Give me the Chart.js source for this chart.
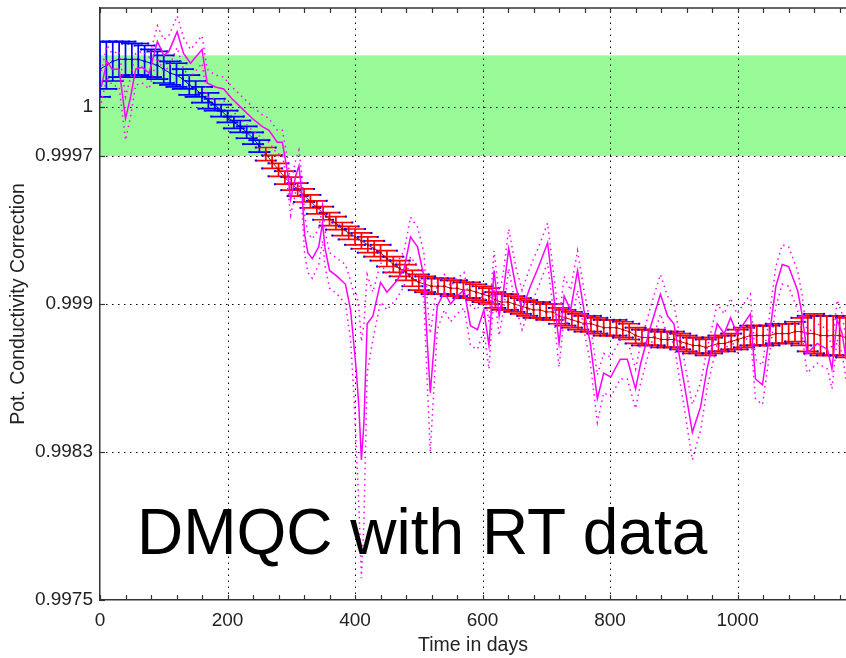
<!DOCTYPE html>
<html>
<head>
<meta charset="utf-8">
<script src="https://cdn.jsdelivr.net/npm/chart.js@4.4.1/dist/chart.umd.min.js"></script>
<style>
  body { margin: 0; background: #fff; }
  #wrap { position: relative; width: 846px; height: 658px; }
  #note { position: absolute; left: 137px; top: 500px; font-family: 'Liberation Sans', Arial, sans-serif;
          font-size: 64px; line-height: 64px; color: #000; white-space: nowrap; }
</style>
</head>
<body>
<div id="wrap">
  <canvas id="corrChart" width="846" height="658"></canvas>
  <div id="note">DMQC with RT data</div>
</div>
<script>
// axis ticks
const xTickValues = [0, 200, 400, 600, 800, 1000];
const yTickValues = [0.9975, 0.99825, 0.999, 0.99975, 1.0];
const yTickLabels = ['0.9975', '0.9983', '0.999', '0.9997', '1'];
const bandRange = [0.99975, 1.00026];

// mapped correction, first part (blue)
const blueDays = [0, 10, 20, 30, 40, 50, 60, 70, 80, 90, 100, 110, 120, 130, 140, 150, 160, 170, 180, 190, 200, 210, 220, 230, 240, 250];
const blueValues = [1.00019, 1.00021, 1.00023, 1.00024, 1.00024, 1.00024, 1.00024, 1.00023, 1.00022, 1.00021,
    1.00019, 1.00017, 1.00016, 1.00014, 1.00011, 1.00009, 1.00006, 1.00003, 1.00001, 0.99998,
    0.99995, 0.99992, 0.99990, 0.99987, 0.99984, 0.99980];
const blueErrors = [0.00014, 0.00012, 0.00010, 0.00009, 0.00009, 0.00008, 0.00008, 0.00008, 0.00007, 0.00007,
    0.00007, 0.00006, 0.00006, 0.00005, 0.00005, 0.00004, 0.00004, 0.00004, 0.00003, 0.00003,
    0.00003, 0.00003, 0.00003, 0.00003, 0.00003, 0.00003];

// mapped correction, second part (red)
const redDays = [260, 270, 280, 290, 300, 310, 320, 330, 340, 350, 360, 370, 380, 390, 400, 410, 420, 430, 440, 450,
    460, 470, 480, 490, 500, 510, 520, 530, 540, 550, 560, 570, 580, 590, 600, 610, 620, 630, 640, 650,
    660, 670, 680, 690, 700, 710, 720, 730, 740, 750, 760, 770, 780, 790, 800, 810, 820, 830, 840, 850,
    860, 870, 880, 890, 900, 910, 920, 930, 940, 950, 960, 970, 980, 990, 1000, 1010, 1020, 1030, 1040, 1050,
    1060, 1070, 1080, 1090, 1100, 1110, 1120, 1130, 1140, 1150, 1160, 1170];
const redValues = [0.99976, 0.99972, 0.99968, 0.99964, 0.99961, 0.99958, 0.99955, 0.99952, 0.99949, 0.99946,
    0.99943, 0.99941, 0.99938, 0.99936, 0.99934, 0.99932, 0.99930, 0.99928, 0.99926, 0.99923,
    0.99920, 0.99918, 0.99916, 0.99913, 0.99911, 0.99910, 0.99909, 0.99909, 0.99909, 0.99908,
    0.99908, 0.99907, 0.99907, 0.99906, 0.99905, 0.99904, 0.99902, 0.99901, 0.99901, 0.99900,
    0.99899, 0.99898, 0.99897, 0.99897, 0.99896, 0.99896, 0.99894, 0.99893, 0.99892, 0.99891,
    0.99890, 0.99890, 0.99889, 0.99888, 0.99888, 0.99888, 0.99887, 0.99886, 0.99884, 0.99883,
    0.99883, 0.99883, 0.99882, 0.99882, 0.99882, 0.99881, 0.99880, 0.99879, 0.99879, 0.99878,
    0.99879, 0.99880, 0.99880, 0.99881, 0.99882, 0.99883, 0.99884, 0.99884, 0.99884, 0.99884,
    0.99885, 0.99885, 0.99885, 0.99886, 0.99886, 0.99885, 0.99885, 0.99884, 0.99884, 0.99884,
    0.99884, 0.99883];
const redErrors = [0.000033, 0.000033, 0.000033, 0.000033, 0.000033, 0.000033, 0.000033, 0.000033, 0.000033, 0.000033,
    0.000033, 0.000033, 0.000033, 0.000033, 0.00004, 0.00004, 0.00004, 0.00004, 0.00004, 0.00004,
    0.00004, 0.00004, 0.00004, 0.00004, 0.00004, 0.00004, 0.00004, 0.00004, 0.00004, 0.00004,
    0.00004, 0.00004, 0.00004, 0.00004, 0.00004, 0.00004, 0.00004, 0.00004, 0.00004, 0.00004,
    0.00004, 0.00004, 0.00004, 0.00004, 0.00004, 0.00004, 0.00004, 0.00004, 0.00004, 0.00004,
    0.00004, 0.00004, 0.00004, 0.00004, 0.00004, 0.00004, 0.00004, 0.00004, 0.00004, 0.00004,
    0.00004, 0.00004, 0.00004, 0.00004, 0.00004, 0.00004, 0.00004, 0.00004, 0.00004, 0.00004,
    0.00004, 0.00004, 0.00004, 0.00004, 0.00005, 0.00005, 0.00005, 0.00005, 0.00005, 0.00005,
    0.00005, 0.00005, 0.00005, 0.00005, 0.00007, 0.00009, 0.0001, 0.0001, 0.0001, 0.0001,
    0.0001, 0.0001];

// correction estimated from real-time data (magenta) with its uncertainty
const rtDays = [2, 11, 19, 30, 40, 48, 56, 66, 77, 90, 100, 108, 121, 131, 142, 160, 168, 181, 194, 207,
    223, 239, 254, 265, 278, 286, 294, 299, 307, 312, 317, 321, 326, 333, 343, 349, 353, 360, 372, 385,
    393, 398, 402, 406, 410, 414, 419, 428, 440, 450, 466, 477, 487, 498, 508, 513, 518, 524, 529, 540,
    550, 560, 571, 581, 592, 602, 610, 618, 626, 633, 641, 652, 662, 675, 688, 702, 709, 720, 728, 738,
    749, 759, 769, 780, 790, 801, 816, 827, 840, 848, 863, 879, 890, 900, 916, 929, 942, 952, 968, 979,
    989, 999, 1020, 1028, 1039, 1049, 1060, 1070, 1080, 1094, 1101, 1109, 1125, 1141, 1148, 1156, 1164, 1170];
const rtValues = [1.00010, 1.00023, 1.00019, 1.00019, 0.99994, 1.00005, 1.00019, 1.00020, 1.00017, 1.00033,
    1.00026, 1.00028, 1.00038, 1.00027, 1.00022, 1.00029, 1.00012, 1.00010, 1.00009, 1.00004,
    0.99999, 0.99994, 0.99990, 0.99988, 0.99982, 0.99982, 0.99967, 0.99953, 0.99965, 0.99970,
    0.99955, 0.99935, 0.99926, 0.99923, 0.99929, 0.99941, 0.99928, 0.99917, 0.99914, 0.99910,
    0.99897, 0.99880, 0.99866, 0.99848, 0.99821, 0.99840, 0.99890, 0.99894, 0.99911, 0.99906,
    0.99912, 0.99918, 0.99934, 0.99929, 0.99914, 0.99882, 0.99855, 0.99879, 0.99899, 0.99906,
    0.99900, 0.99904, 0.99907, 0.99889, 0.99887, 0.99897, 0.99879, 0.99917, 0.99894, 0.99907,
    0.99928, 0.99909, 0.99897, 0.99909, 0.99919, 0.99931, 0.99912, 0.99880, 0.99904, 0.99897,
    0.99917, 0.99897, 0.99880, 0.99852, 0.99865, 0.99863, 0.99872, 0.99872, 0.99857, 0.99870,
    0.99888, 0.99905, 0.99894, 0.99890, 0.99860, 0.99835, 0.99848, 0.99867, 0.99890, 0.99885,
    0.99893, 0.99885, 0.99895, 0.99862, 0.99859, 0.99882, 0.99909, 0.99920, 0.99919, 0.99907,
    0.99895, 0.99875, 0.99880, 0.99877, 0.99867, 0.99892, 0.99885, 0.99872];
const rtErrors = [0.00008, 0.00008, 0.00008, 0.00009, 0.00011, 0.0001, 0.00008, 0.00008, 0.00008, 0.00008,
    0.00008, 0.00008, 0.00008, 0.00008, 0.00007, 0.00007, 0.00007, 0.00006, 0.00006, 0.00006,
    0.00006, 0.00006, 0.00006, 0.00006, 0.00006, 0.00006, 0.00007, 0.00008, 0.00008, 0.00008,
    0.00009, 0.0001, 0.0001, 0.0001, 0.00009, 0.00009, 0.00009, 0.00009, 0.00009, 0.0001,
    0.00015, 0.00025, 0.0004, 0.0005, 0.0006, 0.0005, 0.00025, 0.00012, 0.0001, 0.00009,
    0.00009, 0.00009, 0.0001, 0.0001, 0.00012, 0.0002, 0.0003, 0.0002, 0.00012, 0.00009,
    0.00009, 0.00009, 0.00009, 0.0001, 0.0001, 0.0001, 0.00012, 0.0001, 0.0001, 0.0001,
    0.0001, 0.0001, 0.0001, 0.0001, 0.0001, 0.0001, 0.0001, 0.00012, 0.0001, 0.0001,
    0.0001, 0.0001, 0.0001, 0.00012, 0.0001, 0.0001, 0.0001, 0.0001, 0.0001, 0.0001,
    0.0001, 0.0001, 0.0001, 0.0001, 0.00012, 0.00014, 0.00012, 0.0001, 0.0001, 0.0001,
    0.0001, 0.0001, 0.0001, 0.0001, 0.0001, 0.0001, 0.0001, 0.0001, 0.0001, 0.0001,
    0.0001, 0.0001, 0.0001, 0.0001, 0.0001, 0.0001, 0.0001, 0.0001];

const tickFont = { family: "'Liberation Sans', Arial, sans-serif", size: 19 };
const titleFont = { family: "'Liberation Sans', Arial, sans-serif", size: 19.5 };

function pairs(days, vals, offs, sign) {
    return days.map((d, i) => ({ x: d, y: offs ? vals[i] + sign * offs[i] : vals[i] }));
}

// green band, dotted grid and the error bars
const backdropPlugin = {
    id: 'backdrop',
    beforeDraw(chart) {
        const { ctx, chartArea: a, scales: { y } } = chart;
        const top = y.getPixelForValue(bandRange[1]);
        const bot = y.getPixelForValue(bandRange[0]);
        ctx.save();
        ctx.fillStyle = '#98fb98';
        ctx.fillRect(a.left, top, a.right - a.left, bot - top);
        ctx.restore();
    },
    beforeDatasetsDraw(chart) {
        const { ctx, chartArea: a, scales: { x, y } } = chart;
        ctx.save();
        ctx.strokeStyle = '#000';
        ctx.lineWidth = 1;
        ctx.setLineDash([1.5, 4.5]);
        xTickValues.slice(1).forEach(v => {
            const px = Math.round(x.getPixelForValue(v)) + 0.5;
            ctx.beginPath(); ctx.moveTo(px, a.bottom); ctx.lineTo(px, a.top); ctx.stroke();
        });
        yTickValues.slice(1).forEach(v => {
            const py = Math.round(y.getPixelForValue(v)) + 0.5;
            ctx.beginPath(); ctx.moveTo(a.left, py); ctx.lineTo(a.right, py); ctx.stroke();
        });
        ctx.setLineDash([]);

        ctx.beginPath();
        ctx.rect(a.left, a.top, a.right - a.left, a.bottom - a.top);
        ctx.clip();
        drawErrorBars(ctx, x, y, blueDays, blueValues, blueErrors, '#0000ff');
        drawErrorBars(ctx, x, y, redDays, redValues, redErrors, '#ff0000');
        ctx.restore();
    },
    afterDraw(chart) {
        const { ctx, chartArea: a, scales: { x, y } } = chart;
        ctx.save();
        ctx.strokeStyle = '#333';
        ctx.lineWidth = 1.5;
        ctx.beginPath(); ctx.moveTo(a.left, a.top); ctx.lineTo(a.right, a.top); ctx.stroke();
        ctx.lineWidth = 1.2;
        for (let d = 0; d <= x.max; d += 40) {
            const px = Math.round(x.getPixelForValue(d)) + 0.5;
            ctx.beginPath();
            ctx.moveTo(px, a.bottom); ctx.lineTo(px, a.bottom - 5);
            ctx.moveTo(px, a.top); ctx.lineTo(px, a.top + 5);
            ctx.stroke();
        }
        yTickValues.forEach(v => {
            const py = Math.round(y.getPixelForValue(v)) + 0.5;
            ctx.beginPath(); ctx.moveTo(a.left, py); ctx.lineTo(a.left + 5, py); ctx.stroke();
        });
        ctx.restore();
    }
};

function drawErrorBars(ctx, x, y, days, vals, errs, color) {
    const cap = 10;
    ctx.strokeStyle = color;
    ctx.lineWidth = 1.7;
    days.forEach((d, i) => {
        const px = x.getPixelForValue(d);
        const hi = y.getPixelForValue(vals[i] + errs[i]);
        const lo = y.getPixelForValue(vals[i] - errs[i]);
        ctx.beginPath();
        ctx.moveTo(px, hi); ctx.lineTo(px, lo);
        ctx.moveTo(px - cap, hi); ctx.lineTo(px + cap, hi);
        ctx.moveTo(px - cap, lo); ctx.lineTo(px + cap, lo);
        ctx.stroke();
    });
    ctx.fillStyle = '#0000ff';
    days.forEach((d, i) => {
        const px = x.getPixelForValue(d);
        [vals[i] + errs[i], vals[i] - errs[i]].forEach(v => {
            const py = y.getPixelForValue(v);
            ctx.fillRect(px - cap - 1, py - 1, 2, 2);
            ctx.fillRect(px + cap - 1, py - 1, 2, 2);
        });
    });
}

const ctx = document.getElementById('corrChart').getContext('2d');

const corrChart = new Chart(ctx, {
    type: 'line',
    data: {
        datasets: [
            {
                data: pairs(rtDays, rtValues),
                borderColor: '#ff00ff', borderWidth: 1.5, pointRadius: 0, order: 0
            },
            {
                data: pairs(rtDays, rtValues, rtErrors, 1),
                borderColor: '#ff00ff', borderWidth: 1.5, borderDash: [1.5, 4], pointRadius: 0, order: 1
            },
            {
                data: pairs(rtDays, rtValues, rtErrors, -1),
                borderColor: '#ff00ff', borderWidth: 1.5, borderDash: [1.5, 4], pointRadius: 0, order: 1
            },
            {
                data: pairs(blueDays, blueValues),
                borderColor: '#0000cc', borderWidth: 1, pointRadius: 1.2,
                pointBackgroundColor: '#0000cc', pointBorderWidth: 0, order: 2
            },
            {
                data: pairs(redDays, redValues),
                borderColor: '#cc0000', borderWidth: 1, pointRadius: 1.2,
                pointBackgroundColor: '#aa0000', pointBorderWidth: 0, order: 2
            }
        ]
    },
    options: {
        responsive: false,
        animation: false,
        devicePixelRatio: 1,
        layout: { autoPadding: false, padding: { top: 8, right: 0, left: 0, bottom: 0 } },
        plugins: { legend: { display: false }, tooltip: { enabled: false } },
        scales: {
            x: {
                type: 'linear',
                min: 0,
                max: 1170,
                afterBuildTicks: (scale) => { scale.ticks = xTickValues.map(v => ({ value: v })); },
                afterFit: (scale) => {
                    scale.height = 58;
                    scale.paddingLeft = 0; scale.paddingRight = 0;
                },
                ticks: { font: tickFont, color: '#222', padding: 9, maxRotation: 0,
                         callback: (value) => String(value) },
                grid: { display: false, drawTicks: false },
                border: { display: true, color: '#333', width: 1.5 },
                title: { display: true, text: 'Time in days', font: titleFont, color: '#222', padding: { top: 0, bottom: 1 } }
            },
            y: {
                type: 'linear',
                min: 0.9975,
                max: 1.0005,
                afterBuildTicks: (scale) => { scale.ticks = yTickValues.map(v => ({ value: v })); },
                afterFit: (scale) => {
                    scale.width = 100;
                    scale.paddingTop = 0; scale.paddingBottom = 0;
                },
                ticks: {
                    font: tickFont, color: '#222', padding: 7,
                    callback: (value, index) => yTickLabels[index]
                },
                grid: { display: false, drawTicks: false },
                border: { display: true, color: '#333', width: 1.5 },
                title: { display: true, text: 'Pot. Conductivity Correction', font: titleFont, color: '#222', padding: { top: 7, bottom: 0 } }
            }
        }
    },
    plugins: [backdropPlugin]
});
</script>
</body>
</html>
